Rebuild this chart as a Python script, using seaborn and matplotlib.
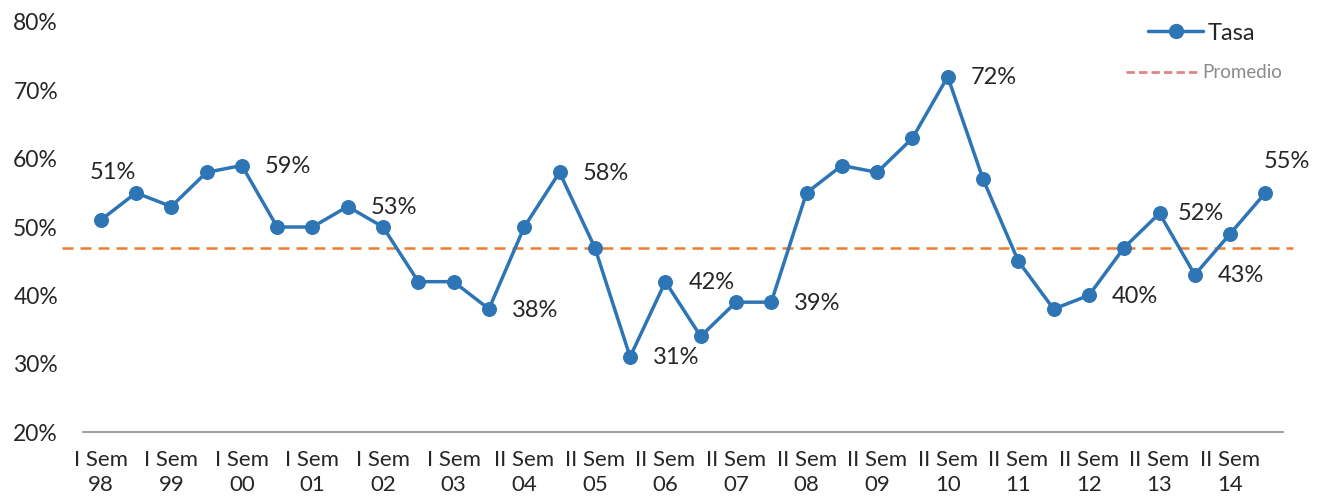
import numpy as np
import pandas as pd
import matplotlib.pyplot as plt
import seaborn as sns
from matplotlib.lines import Line2D

# datos
etiquetas = ['I Sem\n98', 'I Sem\n99', 'I Sem\n00', 'I Sem\n01', 'I Sem\n02', 'I Sem\n03',
             'II Sem\n04', 'II Sem\n05', 'II Sem\n06', 'II Sem\n07', 'II Sem\n08', 'II Sem\n09',
             'II Sem\n10', 'II Sem\n11', 'II Sem\n12', 'II Sem\n13', 'II Sem\n14']
tasa = [51, 55, 53, 58, 59, 50, 50, 53, 50, 42, 42, 38, 50, 58, 47, 31, 42,
        34, 39, 39, 55, 59, 58, 63, 72, 57, 45, 38, 40, 47, 52, 43, 49, 55]
promedio = 47
etiquetados = [0, 4, 7, 11, 13, 15, 16, 19, 24, 28, 30, 31, 33]

dados = pd.DataFrame({'x': np.arange(len(tasa)), 'Tasa': np.array(tasa) / 100})

sns.set_style('white')
plt.rcParams['font.family'] = ['Lato', 'DejaVu Sans']

fig = plt.figure(figsize=(13.2, 5.01), dpi=100)
ax = fig.add_axes([0.0629, 0.1377, 0.9091, 0.8184])

azul = '#2E75B6'
naranja = '#ED7D31'

sns.lineplot(data=dados, x='x', y='Tasa', ax=ax, color=azul, linewidth=2.5,
             marker='o', markersize=10, markeredgecolor=azul)
ax.axhline(promedio / 100, xmin=-0.0175, xmax=1.008, color=naranja, linestyle='--',
           linewidth=1.8, dashes=(4.4, 2.8), clip_on=False, zorder=1)

# etiquetas de datos
desplaz = {0: (12, 48), 30: (41, 0), 33: (21, 31)}
for i in etiquetados:
    dx, dy = desplaz.get(i, (46, -1))
    ax.annotate(f'{tasa[i]}%', (i, tasa[i] / 100), xytext=(dx, dy),
                textcoords='offset pixels', ha='center', va='center', fontsize=17)

ax.set_xlim(-0.5, len(tasa) - 0.5)
ax.set_ylim(0.2, 0.8)
ax.set_yticks(np.arange(0.2, 0.81, 0.1))
ax.set_yticklabels([f'{int(round(v * 100))}%' for v in np.arange(0.2, 0.81, 0.1)], fontsize=16.5)
ax.set_xticks(np.arange(0, len(tasa), 2))
ax.set_xticklabels(etiquetas, fontsize=16, linespacing=1.3)
ax.tick_params(axis='both', length=0)
ax.tick_params(axis='y', pad=18)
ax.tick_params(axis='x', pad=13)
ax.set_xlabel('')
ax.set_ylabel('')

for lado in ['top', 'right', 'left']:
    ax.spines[lado].set_visible(False)
ax.spines['bottom'].set_color('#8c8c8c')
ax.spines['bottom'].set_linewidth(1.2)

# leyenda
h1 = Line2D([], [], color=azul, linewidth=2.5, marker='o', markersize=10)
h2 = Line2D([], [], color='#e08585', linewidth=2, linestyle='--', dashes=(3, 1.5))
leg1 = fig.legend([h1], ['Tasa'], loc='center left', bbox_to_anchor=(1148 / 1320, 1 - 33 / 501),
                  frameon=False, fontsize=17, handlelength=2.33, handletextpad=0.2,
                  borderpad=0, borderaxespad=0)
leg2 = fig.legend([h2], ['Promedio'], loc='center left', bbox_to_anchor=(1126 / 1320, 1 - 73 / 501),
                  frameon=False, fontsize=13.5, handlelength=3.8, handletextpad=0.28,
                  borderpad=0, borderaxespad=0)
leg2.get_texts()[0].set_color('#8a8a8a')

fig.savefig('out.png', dpi=100)
